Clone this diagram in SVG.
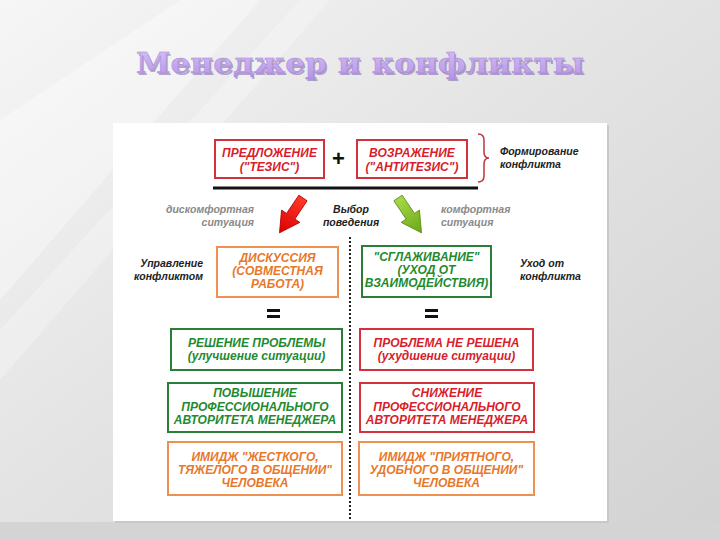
<svg xmlns="http://www.w3.org/2000/svg" width="720" height="540" viewBox="0 0 720 540">
<defs>
<linearGradient id="bg" x1="0" y1="0" x2="1" y2="1">
<stop offset="0" stop-color="#f6f6f6"/>
<stop offset="0.45" stop-color="#e4e4e4"/>
<stop offset="1" stop-color="#d2d2d2"/>
</linearGradient>
<linearGradient id="redg" x1="0" y1="0" x2="0" y2="1">
<stop offset="0" stop-color="#ff3a2a"/>
<stop offset="1" stop-color="#d80000"/>
</linearGradient>
<linearGradient id="greeng" x1="0" y1="0" x2="0" y2="1">
<stop offset="0" stop-color="#a8d848"/>
<stop offset="1" stop-color="#6aa818"/>
</linearGradient>
<linearGradient id="titleg" x1="0" y1="0" x2="0" y2="1">
<stop offset="0" stop-color="#d6c0f6"/>
<stop offset="1" stop-color="#b494e6"/>
</linearGradient>
<style>
.t{font-family:"Liberation Sans",Arial,sans-serif;font-weight:bold;font-style:italic;font-size:12px;text-anchor:middle}
.s{font-family:"Liberation Sans",Arial,sans-serif;font-weight:bold;font-style:italic;font-size:10.5px}
.red{fill:#d81e2c}
.grn{fill:#1f8a30}
.org{fill:#e8782a}
.bred{fill:#fff;stroke:#d2323c;stroke-width:2}
.bgrn{fill:#fff;stroke:#2a7e38;stroke-width:2}
.borg{fill:#fff;stroke:#ee9050;stroke-width:2}
.gray{fill:#8a8a8a}
.blk{fill:#222}
.ttl{font-family:"DejaVu Serif","Liberation Serif",serif;font-size:27px;font-weight:bold;text-anchor:middle}
</style>
</defs>
<rect width="720" height="540" fill="url(#bg)"/>
<polygon points="0,120 180,0 260,0 0,300" fill="#ffffff" opacity="0.35"/>
<polygon points="0,330 300,0 330,0 0,380" fill="#ffffff" opacity="0.25"/>
<rect x="0" y="522" width="720" height="18" fill="#d4d4d4"/>
<!-- title -->
<text class="ttl" x="361.5" y="74.5" textLength="448" lengthAdjust="spacingAndGlyphs" fill="#7e62a8" opacity="0.55">Менеджер и конфликты</text>
<text class="ttl" x="360" y="73" textLength="448" lengthAdjust="spacingAndGlyphs" fill="url(#titleg)" stroke="#a184d2" stroke-width="0.4">Менеджер и конфликты</text>
<!-- panel -->
<rect x="115" y="125" width="494" height="398" fill="#c8c8c8"/>
<rect x="113" y="123" width="494" height="398" fill="#ffffff"/>

<g id="connectors">
<line x1="213" y1="188" x2="478" y2="188" stroke="#111" stroke-width="3"/>
<line x1="350" y1="237" x2="350" y2="520" stroke="#222" stroke-width="2" stroke-dasharray="2 2"/>
<polygon transform="translate(303,198) rotate(34)" points="-5,0 5,0 5,22 11,22 0,42 -11,22 -5,22" fill="url(#redg)" stroke="#b00000" stroke-width="0.8"/>
<polygon transform="translate(398,198) rotate(-34)" points="-5,0 5,0 5,22 11,22 0,42 -11,22 -5,22" fill="url(#greeng)" stroke="#5a8a10" stroke-width="0.8"/>
<g id="eq1"><rect x="267" y="309" width="13" height="3" fill="#111"/><rect x="267" y="315" width="13" height="3" fill="#111"/></g>
<g id="eq2"><rect x="425" y="309" width="13" height="3" fill="#111"/><rect x="425" y="315" width="13" height="3" fill="#111"/></g>
</g>

<g id="thesis">
<rect class="bred" x="215" y="140" width="109" height="38"/>
<text class="t red" x="269.5" y="157">ПРЕДЛОЖЕНИЕ</text>
<text class="t red" x="269.5" y="171">("ТЕЗИС")</text>
</g>
<g id="plus"><text x="338.5" y="166" font-family="'Liberation Sans',Arial,sans-serif" font-weight="bold" font-size="22" text-anchor="middle" fill="#111">+</text></g>
<g id="antithesis">
<rect class="bred" x="357" y="140" width="110" height="38"/>
<text class="t red" x="412" y="157">ВОЗРАЖЕНИЕ</text>
<text class="t red" x="412" y="171">("АНТИТЕЗИС")</text>
</g>
<g id="formation">
<path d="M478,134 Q484,134 484,140 L484,152 Q484,158 489,158 Q484,158 484,164 L484,176 Q484,182 478,182" fill="none" stroke="#c03040" stroke-width="1.5"/>
<text class="s blk" x="500" y="155">Формирование</text>
<text class="s blk" x="500" y="168">конфликта</text>
</g>

<g id="discomfort">
<text class="s gray" x="254" y="213" text-anchor="end">дискомфортная</text>
<text class="s gray" x="254" y="226" text-anchor="end">ситуация</text>
</g>
<g id="choice">
<text class="s blk" x="351" y="213" text-anchor="middle">Выбор</text>
<text class="s blk" x="351" y="226" text-anchor="middle">поведения</text>
</g>
<g id="comfort">
<text class="s gray" x="441" y="213">комфортная</text>
<text class="s gray" x="441" y="226">ситуация</text>
</g>

<g id="manage">
<text class="s blk" x="203" y="267" text-anchor="end">Управление</text>
<text class="s blk" x="203" y="280" text-anchor="end">конфликтом</text>
</g>
<g id="discussion">
<rect class="borg" x="217" y="247" width="121" height="50"/>
<text class="t org" x="277.5" y="262">ДИСКУССИЯ</text>
<text class="t org" x="277.5" y="275">(СОВМЕСТНАЯ</text>
<text class="t org" x="277.5" y="288">РАБОТА)</text>
</g>
<g id="smoothing">
<rect class="bgrn" x="362" y="246" width="129" height="51"/>
<text class="t grn" x="426.5" y="261">"СГЛАЖИВАНИЕ"</text>
<text class="t grn" x="426.5" y="274">(УХОД ОТ</text>
<text class="t grn" x="426.5" y="287">ВЗАИМОДЕЙСТВИЯ)</text>
</g>
<g id="withdraw">
<text class="s blk" x="520" y="267">Уход от</text>
<text class="s blk" x="520" y="280">конфликта</text>
</g>

<g id="solved">
<rect class="bgrn" x="171" y="329" width="171" height="41"/>
<text class="t grn" x="256.5" y="347">РЕШЕНИЕ ПРОБЛЕМЫ</text>
<text class="t grn" x="256.5" y="360">(улучшение ситуации)</text>
</g>
<g id="unsolved">
<rect class="bred" x="360" y="329" width="173" height="41"/>
<text class="t red" x="446.5" y="347">ПРОБЛЕМА НЕ РЕШЕНА</text>
<text class="t red" x="446.5" y="360">(ухудшение ситуации)</text>
</g>

<g id="raise">
<rect class="bgrn" x="168" y="383" width="174" height="49"/>
<text class="t grn" x="255" y="397">ПОВЫШЕНИЕ</text>
<text class="t grn" x="255" y="410.5">ПРОФЕССИОНАЛЬНОГО</text>
<text class="t grn" x="255" y="424">АВТОРИТЕТА МЕНЕДЖЕРА</text>
</g>
<g id="lower">
<rect class="bred" x="360" y="383" width="174" height="49"/>
<text class="t red" x="447" y="397">СНИЖЕНИЕ</text>
<text class="t red" x="447" y="410.5">ПРОФЕССИОНАЛЬНОГО</text>
<text class="t red" x="447" y="424">АВТОРИТЕТА МЕНЕДЖЕРА</text>
</g>

<g id="imageHard">
<rect class="borg" x="168" y="442" width="174" height="53"/>
<text class="t org" x="255" y="461">ИМИДЖ "ЖЕСТКОГО,</text>
<text class="t org" x="255" y="474">ТЯЖЕЛОГО В ОБЩЕНИИ"</text>
<text class="t org" x="255" y="487">ЧЕЛОВЕКА</text>
</g>
<g id="imageNice">
<rect class="borg" x="359" y="442" width="175" height="53"/>
<text class="t org" x="446.5" y="461">ИМИДЖ "ПРИЯТНОГО,</text>
<text class="t org" x="446.5" y="474">УДОБНОГО В ОБЩЕНИИ"</text>
<text class="t org" x="446.5" y="487">ЧЕЛОВЕКА</text>
</g>
</svg>
